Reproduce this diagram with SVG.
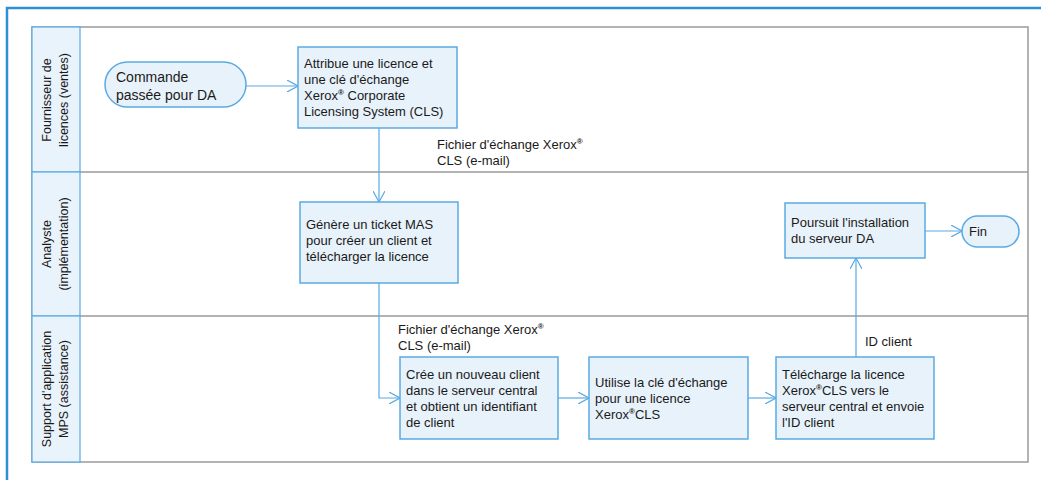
<svg xmlns="http://www.w3.org/2000/svg" width="1041" height="480" viewBox="0 0 1041 480">
<style>
text{font-family:"Liberation Sans",Arial,sans-serif;fill:#1a1a1a;}
.t{font-size:13px;}
.lane{font-size:12.5px;text-anchor:middle;}
.box{fill:#e8f2fb;stroke:#5aaae2;stroke-width:1.5;}
.hdr{fill:#e9f3fb;stroke:#5aaae2;stroke-width:1.2;}
.pool{fill:#fff;stroke:#9a9a9a;stroke-width:1.5;}
.div{stroke:#9a9a9a;stroke-width:1.5;}
.c{fill:none;stroke:#5aaae2;stroke-width:1.2;marker-end:url(#ah);}
.sup{font-size:8px;font-weight:bold;}
</style>
<defs>
<marker id="ah" viewBox="0 0 12 12" refX="11" refY="6" markerWidth="12" markerHeight="12" markerUnits="userSpaceOnUse" orient="auto">
<path d="M0,0 L11,6 L0,12" fill="none" stroke="#5aaae2" stroke-width="1.2"/>
</marker>
</defs>
<rect x="0" y="0" width="1041" height="480" fill="#fff"/>
<rect x="7" y="8" width="1050" height="490" fill="none" stroke="#2d8fd5" stroke-width="2.5"/>

<g id="pool">
<rect class="pool" x="32" y="27" width="996" height="435"/>
<line class="div" x1="80" y1="172" x2="1028" y2="172"/>
<line class="div" x1="80" y1="316" x2="1028" y2="316"/>
<rect class="hdr" x="32" y="27" width="48" height="145"/>
<rect class="hdr" x="32" y="172" width="48" height="144"/>
<rect class="hdr" x="32" y="316" width="48" height="146"/>
</g>

<g id="lane1-label"><text class="lane" transform="translate(56,100) rotate(-90)"><tspan x="0" y="-5">Fournisseur de</tspan><tspan x="0" y="12">licences (ventes)</tspan></text></g>
<g id="lane2-label"><text class="lane" transform="translate(56,244) rotate(-90)"><tspan x="0" y="-5">Analyste</tspan><tspan x="0" y="12">(implémentation)</tspan></text></g>
<g id="lane3-label"><text class="lane" transform="translate(56,389) rotate(-90)"><tspan x="0" y="-5">Support d'application</tspan><tspan x="0" y="12">MPS (assistance)</tspan></text></g>

<g id="connectors">
<path class="c" d="M246,86 H298"/>
<path class="c" d="M379,128 V202"/>
<path class="c" d="M379,283 V398 H400"/>
<path class="c" d="M558,398 H589"/>
<path class="c" d="M748,398 H776"/>
<path class="c" d="M856,357 V258"/>
<path class="c" d="M925,231 H962"/>
<text class="t" x="437"><tspan x="437" y="149">Fichier d'échange Xerox<tspan class="sup" dy="-5">®</tspan></tspan><tspan x="437" y="165">CLS (e-mail)</tspan></text>
<text class="t" x="398"><tspan x="398" y="334">Fichier d'échange Xerox<tspan class="sup" dy="-5">®</tspan></tspan><tspan x="398" y="350">CLS (e-mail)</tspan></text>
<text class="t" x="865" y="346">ID client</text>
</g>

<g id="n-commande">
<rect class="box" x="105" y="62" width="141" height="45" rx="22.5"/>
<text style="font-size:14px"><tspan x="116" y="82">Commande</tspan><tspan x="116" y="100">passée pour DA</tspan></text>
</g>

<g id="n-attribue">
<rect class="box" x="298" y="47" width="159" height="81"/>
<text class="t"><tspan x="304" y="68">Attribue une licence et</tspan><tspan x="304" y="84">une clé d'échange</tspan><tspan x="304" y="100">Xerox<tspan class="sup" dy="-5">®</tspan><tspan dy="5"> Corporate</tspan></tspan><tspan x="304" y="116">Licensing System (CLS)</tspan></text>
</g>

<g id="n-genere">
<rect class="box" x="300" y="202" width="158" height="81"/>
<text class="t"><tspan x="306" y="229">Génère un ticket MAS</tspan><tspan x="306" y="245">pour créer un client et</tspan><tspan x="306" y="261">télécharger la licence</tspan></text>
</g>

<g id="n-cree">
<rect class="box" x="400" y="357" width="158" height="82"/>
<text class="t"><tspan x="406" y="379">Crée un nouveau client</tspan><tspan x="406" y="395">dans le serveur central</tspan><tspan x="406" y="411">et obtient un identifiant</tspan><tspan x="406" y="427">de client</tspan></text>
</g>

<g id="n-utilise">
<rect class="box" x="589" y="357" width="159" height="82"/>
<text class="t"><tspan x="595" y="387">Utilise la clé d'échange</tspan><tspan x="595" y="403">pour une licence</tspan><tspan x="595" y="419">Xerox<tspan class="sup" dy="-5">®</tspan><tspan dy="5">CLS</tspan></tspan></text>
</g>

<g id="n-telecharge">
<rect class="box" x="776" y="357" width="158" height="82"/>
<text class="t"><tspan x="782" y="379">Télécharge la licence</tspan><tspan x="782" y="395">Xerox<tspan class="sup" dy="-5">®</tspan><tspan dy="5">CLS vers le</tspan></tspan><tspan x="782" y="411">serveur central et envoie</tspan><tspan x="782" y="427">l'ID client</tspan></text>
</g>

<g id="n-poursuit">
<rect class="box" x="785" y="203" width="140" height="55"/>
<text class="t"><tspan x="791" y="227">Poursuit l'installation</tspan><tspan x="791" y="243">du serveur DA</tspan></text>
</g>

<g id="n-fin">
<rect class="box" x="962" y="216" width="57" height="31" rx="15.5"/>
<text class="t" x="969" y="236">Fin</text>
</g>
</svg>
